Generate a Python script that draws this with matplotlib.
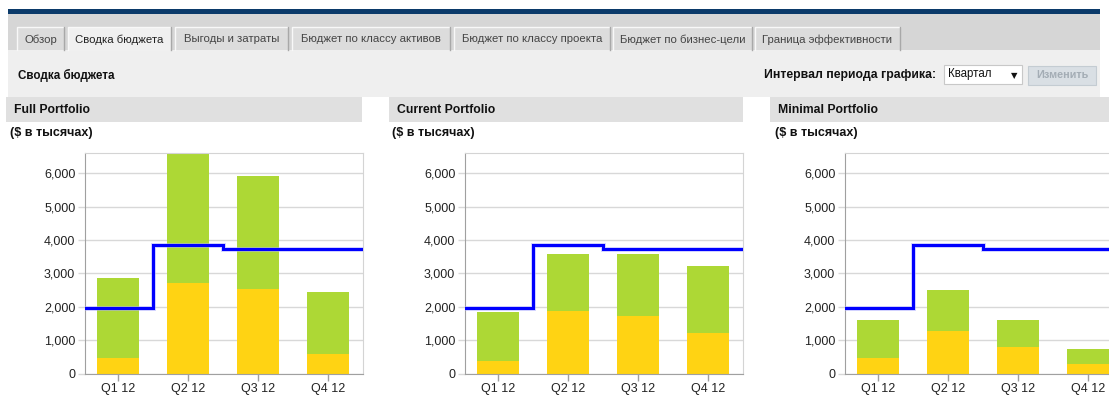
import matplotlib.pyplot as plt
from matplotlib.patches import Rectangle

# quarters and budget values ($ thousands)
quarters = ["Q1 12", "Q2 12", "Q3 12", "Q4 12"]
budget_line = [1970, 3850, 3730, 3730]

full_yellow = [480, 2710, 2530, 590]
full_green = [2380, 3890, 3370, 1860]
current_yellow = [380, 1870, 1730, 1210]
current_green = [1460, 1720, 1860, 2020]
minimal_yellow = [470, 1290, 800, 290]
minimal_green = [1140, 1200, 810, 440]

panel_titles = ["Full Portfolio", "Current Portfolio", "Minimal Portfolio"]
tab_names = ["Обзор", "Сводка бюджета", "Выгоды и затраты", "Бюджет по классу активов",
             "Бюджет по классу проекта", "Бюджет по бизнес-цели", "Граница эффективности"]

W, H = 1109, 400
plt.rcParams["font.family"] = ["Liberation Sans", "DejaVu Sans"]

fig = plt.figure(figsize=(W / 100, H / 100), dpi=100)
fig.patch.set_facecolor("white")

# background "page" drawn in pixel coordinates
bg = fig.add_axes([0, 0, 1, 1])
bg.set_xlim(0, W)
bg.set_ylim(H, 0)
bg.axis("off")


def box(x0, y0, x1, y1, fc, ec="none", lw=0.8, z=1):
    bg.add_patch(Rectangle((x0, y0), x1 - x0, y1 - y0, facecolor=fc, edgecolor=ec, lw=lw, zorder=z))


box(8, 9, 1100, 14, "#0b3a6a")
box(8, 14, 1100, 50, "#d6d6d6")
tab_edges = [(17, 64), (68, 171), (175, 288), (292, 450), (454, 610), (613, 752), (755, 900)]
for i, (name, (a, b)) in enumerate(zip(tab_names, tab_edges)):
    active = i == 1
    box(a, 27, b, 51 if active else 50, "#f0f0f0" if active else "#dcdcdc", z=2)
    bg.plot([a, a, b], [50, 27, 27], color="#f8f8f8", lw=1, zorder=3)
    bg.plot([b, b], [27, 50], color="#a8a8a8", lw=1, zorder=3)
    bg.text((a + b) / 2, 39.5, name, ha="center", va="center", fontsize=8.2,
            color="#222222" if active else "#444444", zorder=4)

box(8, 50, 1100, 97, "#efefef")
bg.text(18, 75, "Сводка бюджета", ha="left", va="center", fontsize=8.4, fontweight="bold", color="#111111")
bg.text(936, 75, "Интервал периода графика:", ha="right", va="center", fontsize=8.8,
        fontweight="bold", color="#111111")
box(944, 65, 1022, 84, "white", ec="#c8c8c8", z=2)
bg.text(948, 74.5, "Квартал", ha="left", va="center", fontsize=8.3, color="#111111", zorder=3)
bg.text(1014, 76, "▼", ha="center", va="center", fontsize=6, color="#111111",
        family="DejaVu Sans", zorder=3)
box(1028, 66, 1096, 85, "#d9dfe4", ec="#c4ccd2", z=2)
bg.text(1062, 75.5, "Изменить", ha="center", va="center", fontsize=7.8, fontweight="bold",
        color="#a4adb5", zorder=3)

header_spans = [(6, 362), (389, 743), (770, 1109)]
label_x = [10, 392, 775]
for title, (a, b), lx in zip(panel_titles, header_spans, label_x):
    box(a, 97, b, 122, "#e0e0e0")
    bg.text(a + 8, 110, title, ha="left", va="center", fontsize=8.8, fontweight="bold", color="#111111")
    bg.text(lx, 133, "($ в тысячах)", ha="left", va="center", fontsize=9, fontweight="bold",
            color="#111111")


def px_axes(left, top, right, bottom):
    return fig.add_axes([left / W, 1 - bottom / H, (right - left) / W, (bottom - top) / H])


axes_lefts = [85, 465, 845]
series = [(full_yellow, full_green), (current_yellow, current_green), (minimal_yellow, minimal_green)]
x = list(range(len(quarters)))

for left, (yel, grn) in zip(axes_lefts, series):
    ax = px_axes(left, 153, left + 278, 373.7)
    ax.set_facecolor("white")
    ax.bar(x, yel, width=0.6, color="#ffd313", zorder=2)
    ax.bar(x, grn, width=0.6, bottom=yel, color="#add835", zorder=2)
    edges = [-0.5, 0.5, 1.5, 2.5, 3.5]
    ax.stairs(budget_line, edges, baseline=None, color="#b0b0ff", lw=3.6, alpha=0.5, zorder=3)
    ax.stairs(budget_line, edges, baseline=None, color="#0000ff", lw=2.2, zorder=4)
    ax.set_xlim(-0.47, 3.5)
    ax.set_ylim(0, 6600)
    ax.set_yticks(range(0, 7000, 1000))
    ax.set_yticklabels([f"{v:,}" for v in range(0, 7000, 1000)])
    ax.set_xticks(x)
    ax.set_xticklabels(quarters)
    ax.yaxis.grid(True, color="#d8d8d8", lw=1)
    ax.set_axisbelow(True)
    ax.tick_params(axis="y", length=5, width=1, color="#d8d8d8", pad=2, labelsize=9, labelcolor="#222222")
    ax.tick_params(axis="x", length=5, width=1, color="#a0a0a0", pad=2, labelsize=9, labelcolor="#222222")
    for s in ["left", "bottom"]:
        ax.spines[s].set_color("#a0a0a0")
    for s in ["top", "right"]:
        ax.spines[s].set_color("#d4d4d4")

plt.savefig("out.png", dpi=100)
